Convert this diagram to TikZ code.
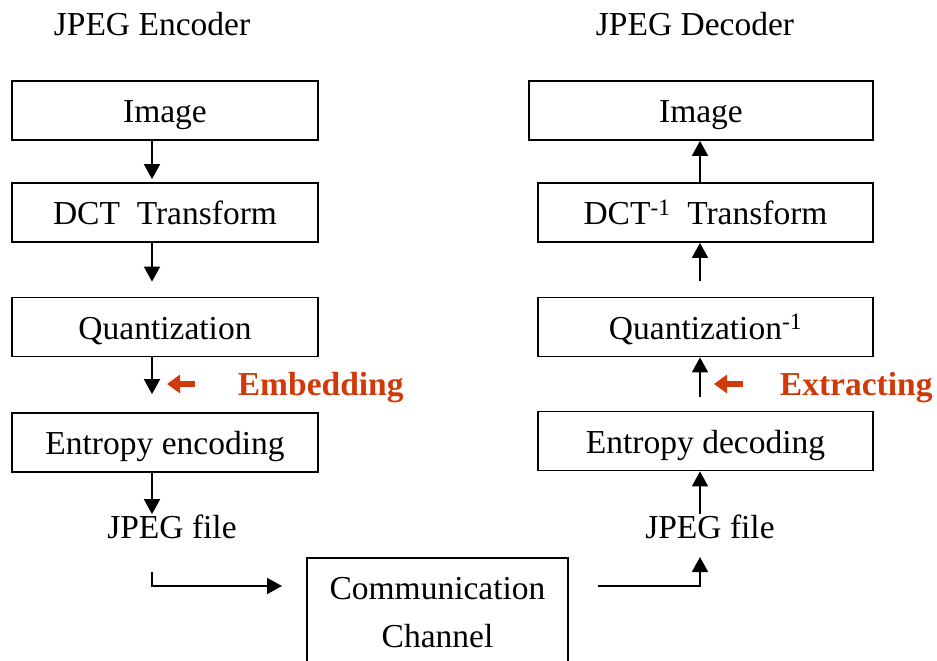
\documentclass[tikz,border=0pt]{standalone}
\usepackage{fontspec}
\setmainfont{Liberation Serif}
\usetikzlibrary{arrows.meta,positioning,calc}
\definecolor{EmbRed}{HTML}{D03A0A}

\begin{document}
\begin{tikzpicture}[x=1pt,y=-1pt,>={Triangle[length=15pt,width=16pt]},line width=1.8pt,
  font=\fontsize{33.5}{48}\selectfont,
  stage/.style={draw,line width=1.8pt,minimum height=59pt,inner sep=0pt,text height=29pt,text depth=5pt},
  plain/.style={inner sep=0pt,anchor=base,text height=23pt,text depth=8pt},
  hint/.style={-{Triangle[length=13pt,width=18pt]},EmbRed,line width=6pt},
  hintlabel/.style={plain,anchor=base west,text=EmbRed,font=\fontsize{33.5}{48}\selectfont\bfseries}]
  \clip (0,0) rectangle (937,661);
  \node[plain] (enc) at (152,36) {JPEG Encoder};
  \node[plain] (dec) at (695,36) {JPEG Decoder};
  \coordinate (lcol) at (152,0);
  \coordinate (rcol) at (700,0);

  \node[stage,minimum width=306pt] (img)   at (165,110.5) {Image};
  \node[stage,minimum width=306pt] (dct)   at (165,212.5) {DCT\ \ Transform};
  \node[stage,minimum width=306pt] (quant) at (165,327)   {Quantization};
  \node[stage,minimum width=306pt] (ent)   at (165,442.5) {Entropy encoding};
  \node[plain] (jfe) at (172,538) {JPEG file};

  \node[stage,minimum width=344pt] (imgd)   at (701,110.5)   {Image};
  \node[stage,minimum width=335pt] (dctd)   at (705.5,212.5) {DCT\textsuperscript{-1}\ \ Transform};
  \node[stage,minimum width=335pt] (quantd) at (705.5,327)   {Quantization\textsuperscript{-1}};
  \node[stage,minimum width=335pt] (entd)   at (705.5,441)   {Entropy decoding};
  \node[plain] (jfd) at (710,538) {JPEG file};

  \node[draw,line width=1.8pt,anchor=north,minimum width=261pt,minimum height=110pt,align=center] (chan) at (437.5,557) {Communication\\Channel};

  \draw[->,shorten >=3pt]  (img.south -| lcol)   -- (dct.north -| lcol);
  \draw[->,shorten >=15pt] (dct.south -| lcol)   -- (quant.north -| lcol);
  \draw[->,shorten >=18pt] (quant.south -| lcol) -- (ent.north -| lcol);
  \draw[->] (ent.south -| lcol) -- (jfe.north -| lcol);

  \coordinate (lout)  at (152,572);
  \coordinate (chin)  at (282,586);
  \coordinate (chout) at (598,586);
  \draw[->] (lout) |- (chin);
  \draw[->] (chout) -| (rcol |- chan.north);

  \draw[->] (jfd.north -| rcol) -- (entd.south -| rcol);
  \draw[->,shorten <=14pt] (entd.north -| rcol)   -- (quantd.south -| rcol);
  \draw[->,shorten <=16pt] (quantd.north -| rcol) -- (dctd.south -| rcol);
  \draw[->] (dctd.north -| rcol) -- (imgd.south -| rcol);

  \coordinate (embA) at (195,384);
  \coordinate (embB) at (167,384);
  \coordinate (extA) at (743,384);
  \coordinate (extB) at (714,384);
  \draw[hint] (embA) -- (embB);
  \draw[hint] (extA) -- (extB);
  \node[hintlabel] (emb) at (237,395) {Embedding};
  \node[hintlabel] (ext) at (779,395) {Extracting};
\end{tikzpicture}
\end{document}
